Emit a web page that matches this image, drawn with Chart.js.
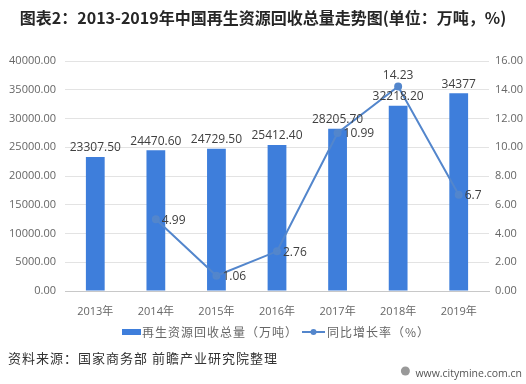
<!DOCTYPE html>
<html>
<head>
<meta charset="utf-8">
<script src="https://cdn.jsdelivr.net/npm/chart.js@4/dist/chart.umd.min.js"></script>
<style>
  html, body { margin: 0; padding: 0; background: #fff; }
  #wrap { width: 526px; height: 384px; }
</style>
</head>
<body>
<div id="wrap"><canvas id="chart" width="526" height="384"></canvas></div>
<script>
  const years = ['2013年', '2014年', '2015年', '2016年', '2017年', '2018年', '2019年'];
  const recycled = [23307.5, 24470.6, 24729.5, 25412.4, 28205.7, 32218.2, 34377];
  const growth = [null, 4.99, 1.06, 2.76, 10.99, 14.23, 6.7];
  const leftTicks = [0, 5000, 10000, 15000, 20000, 25000, 30000, 35000, 40000];
  const rightTicks = [0, 2, 4, 6, 8, 10, 12, 14, 16];

  const titleText = '图表2：2013-2019年中国再生资源回收总量走势图(单位：万吨，%)';
  const sourceText = '资料来源：国家商务部 前瞻产业研究院整理';
  const siteText = 'www.citymine.com.cn';

  const FONT = '"Noto Sans CJK SC", "Microsoft YaHei", sans-serif';
  const NUMFONT = '"Open Sans", "Noto Sans CJK SC", sans-serif';
  const barColor = '#3e7edb';
  const lineColor = '#5386cc';
  const tickColor = '#666';

  // labels, legend, title and footer drawn straight on the canvas
  const extras = {
    id: 'extras',
    afterDatasetsDraw(chart) {
      const c = chart.ctx;
      c.save();
      c.font = '12px ' + NUMFONT;
      c.fillStyle = '#404040';

      const bars = chart.getDatasetMeta(0).data;
      c.textAlign = 'center';
      c.textBaseline = 'bottom';
      bars.forEach((b, i) => {
        const v = recycled[i];
        const txt = Number.isInteger(v) ? String(v) : v.toFixed(2);
        c.fillText(txt, b.x, b.y - 3);
      });

      const pts = chart.getDatasetMeta(1).data;
      const top = Math.max(...growth.filter(v => v !== null));
      pts.forEach((p, i) => {
        const v = growth[i];
        if (v === null) return;
        if (v === top) {
          c.textAlign = 'center';
          c.textBaseline = 'bottom';
          c.fillText(String(v), p.x, p.y - 5);
        } else {
          c.textAlign = 'left';
          c.textBaseline = 'middle';
          c.fillText(String(v), p.x + 6, p.y + 1);
        }
      });
      c.restore();
    },
    afterDraw(chart) {
      const c = chart.ctx;
      c.save();
      // title
      c.fillStyle = '#262626';
      c.font = 'bold 16px ' + FONT;
      c.textAlign = 'center';
      c.textBaseline = 'middle';
      c.fillText(titleText, 263, 18);

      // legend
      c.textAlign = 'left';
      c.font = '12px ' + FONT;
      c.letterSpacing = '1px';
      c.fillStyle = barColor;
      c.fillRect(122, 329, 19, 6);
      c.fillStyle = tickColor;
      c.fillText(chart.data.datasets[0].label, 142, 332);

      c.strokeStyle = lineColor;
      c.lineWidth = 2;
      c.beginPath();
      c.moveTo(302, 332);
      c.lineTo(325, 332);
      c.stroke();
      c.fillStyle = lineColor;
      c.beginPath();
      c.arc(313.5, 332, 3, 0, Math.PI * 2);
      c.fill();
      c.fillStyle = tickColor;
      c.fillText(chart.data.datasets[1].label, 327, 332);

      // footer
      c.fillStyle = '#333';
      c.font = '13px ' + FONT;
      c.fillText(sourceText, 8, 358);
      c.letterSpacing = '0px';
      c.fillStyle = '#555';
      c.font = '10.5px ' + NUMFONT;
      c.textAlign = 'right';
      c.fillText(siteText, 522, 374);
      const w = c.measureText(siteText).width;
      c.fillStyle = '#999';
      c.beginPath();
      c.arc(522 - w - 10, 371, 4.5, 0, Math.PI * 2);
      c.fill();
      c.restore();
    }
  };

  new Chart(document.getElementById('chart'), {
    data: {
      labels: years,
      datasets: [
        {
          type: 'bar',
          label: '再生资源回收总量（万吨）',
          data: recycled,
          backgroundColor: barColor,
          barPercentage: 0.31,
          categoryPercentage: 1,
          yAxisID: 'y',
          order: 2
        },
        {
          type: 'line',
          label: '同比增长率（%）',
          data: growth,
          borderColor: lineColor,
          backgroundColor: lineColor,
          borderWidth: 2,
          pointRadius: 3,
          pointHoverRadius: 3,
          tension: 0,
          yAxisID: 'y1',
          order: 1
        }
      ]
    },
    options: {
      responsive: false,
      animation: false,
      layout: { padding: { top: 61, bottom: 63, left: 0, right: 0 } },
      plugins: {
        legend: { display: false },
        title: { display: false },
        tooltip: { enabled: false }
      },
      scales: {
        x: {
          grid: { display: false },
          border: { color: '#c8c8c8' },
          ticks: { color: tickColor, font: { size: 11, family: NUMFONT }, padding: 6 },
          afterFit(s) { s.height = 30; }
        },
        y: {
          position: 'left',
          min: 0,
          max: 40000,
          afterBuildTicks(s) { s.ticks = leftTicks.map(v => ({ value: v })); },
          grid: { color: '#e3e3e3', drawTicks: false },
          border: { display: false },
          ticks: {
            color: tickColor,
            font: { size: 11, family: NUMFONT },
            padding: 9,
            callback: v => Number(v).toFixed(2)
          },
          afterFit(s) { s.width = 65; }
        },
        y1: {
          position: 'right',
          min: 0,
          max: 16,
          afterBuildTicks(s) { s.ticks = rightTicks.map(v => ({ value: v })); },
          grid: { display: false, drawTicks: false },
          border: { display: false },
          ticks: {
            color: tickColor,
            font: { size: 11, family: NUMFONT },
            padding: 6,
            callback: v => Number(v).toFixed(2)
          },
          afterFit(s) { s.width = 37; }
        }
      }
    },
    plugins: [extras]
  });
</script>
</body>
</html>
